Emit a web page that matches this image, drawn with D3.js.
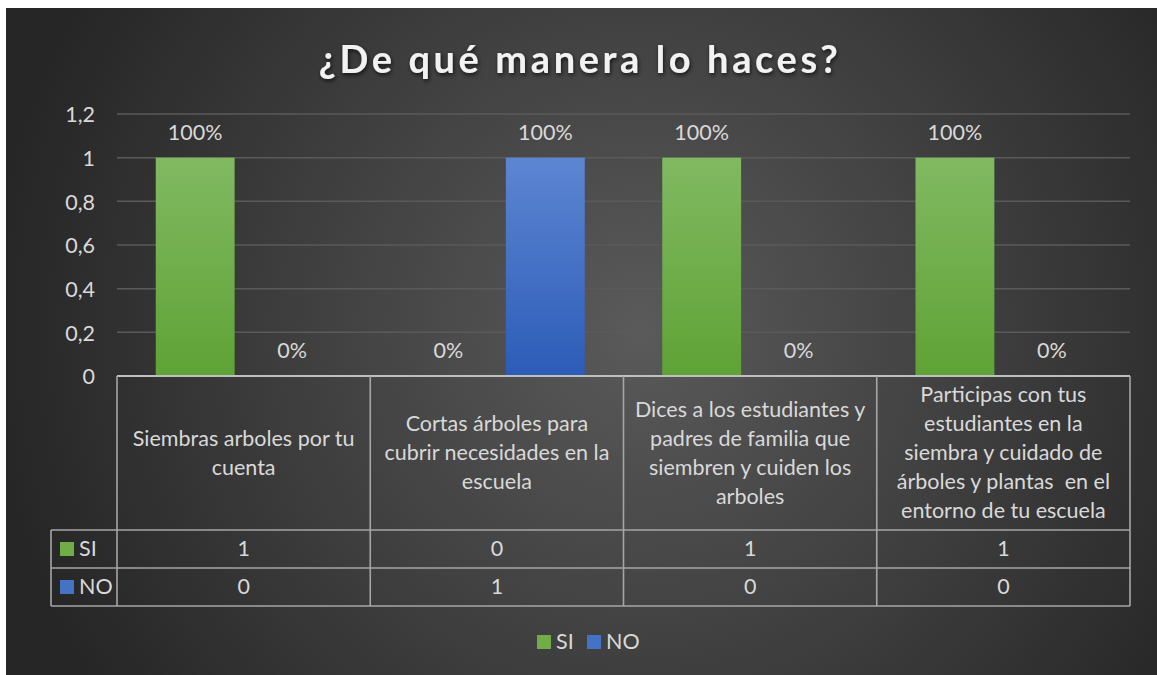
<!DOCTYPE html>
<html>
<head>
<meta charset="utf-8">
<script src="https://cdn.jsdelivr.net/npm/d3@7"></script>
<style>
  html, body { margin: 0; padding: 0; background: #ffffff; }
  svg { display: block; }
  text { font-family: Lato, "Open Sans", sans-serif; white-space: pre; }
</style>
</head>
<body>
<script>
const title = "¿De qué manera lo haces?";
const categories = [
  "Siembras arboles por tu\ncuenta",
  "Cortas árboles para\ncubrir necesidades en la\nescuela",
  "Dices a los estudiantes y\npadres de familia que\nsiembren y cuiden los\narboles",
  "Participas con tus\nestudiantes en la\nsiembra y cuidado de\nárboles y plantas  en el\nentorno de tu escuela"
];
const seriesNames = ["SI", "NO"];
const siValues = [1, 0, 1, 1];
const noValues = [0, 1, 0, 0];
const yTicks = [0, 0.2, 0.4, 0.6, 0.8, 1, 1.2];
const yTickLabels = ["0", "0,2", "0,4", "0,6", "0,8", "1", "1,2"];

const W = 1157, H = 675;
const FS = 21.5;
const svg = d3.select("body").append("svg").attr("width", W).attr("height", H);
const defs = svg.append("defs");

const bg = defs.append("radialGradient").attr("id", "bg")
  .attr("gradientUnits", "userSpaceOnUse")
  .attr("cx", 640).attr("cy", 330).attr("r", 650);
bg.append("stop").attr("offset", "0%").attr("stop-color", "#5a5a5a");
bg.append("stop").attr("offset", "100%").attr("stop-color", "#262626");

const gG = defs.append("linearGradient").attr("id", "gG").attr("x1", 0).attr("y1", 0).attr("x2", 0).attr("y2", 1);
gG.append("stop").attr("offset", "0%").attr("stop-color", "#81b961");
gG.append("stop").attr("offset", "100%").attr("stop-color", "#5fa235");
const gB = defs.append("linearGradient").attr("id", "gB").attr("x1", 0).attr("y1", 0).attr("x2", 0).attr("y2", 1);
gB.append("stop").attr("offset", "0%").attr("stop-color", "#5d86d2");
gB.append("stop").attr("offset", "100%").attr("stop-color", "#2c5cb8");

const sh = defs.append("filter").attr("id", "sh").attr("x", "-10%").attr("y", "-30%").attr("width", "120%").attr("height", "160%");
sh.append("feDropShadow").attr("dx", 1).attr("dy", 2).attr("stdDeviation", 2).attr("flood-color", "#000").attr("flood-opacity", 0.7);

svg.append("rect").attr("x", 6).attr("y", 8).attr("width", W - 6).attr("height", H - 8).attr("fill", "url(#bg)");

// title
svg.append("text").attr("x", 580).attr("y", 73).attr("text-anchor", "middle")
  .attr("font-size", 38).attr("font-weight", 700).attr("letter-spacing", 3.6)
  .attr("fill", "#f2f2f2").attr("filter", "url(#sh)").text(title);

const left = 117, right = 1130;
const y = d3.scaleLinear().domain([0, 1.2]).range([376, 114]);
const x0 = d3.scaleBand().domain(d3.range(categories.length)).range([left, right]).padding(0);
const x1 = d3.scaleBand().domain(seriesNames).range([0, x0.bandwidth()]).paddingInner(0.186).paddingOuter(0.4);

// gridlines
svg.append("g").selectAll("line").data(yTicks.filter(t => t > 0)).join("line")
  .attr("x1", left).attr("x2", right)
  .attr("y1", d => y(d)).attr("y2", d => y(d))
  .attr("stroke", "#5a5a5a").attr("stroke-width", 1.5);

// y labels
const yAxis = d3.axisLeft(y).tickValues(yTicks).tickSize(0).tickPadding(0)
  .tickFormat((d, i) => yTickLabels[i]);
const ya = svg.append("g").attr("transform", `translate(95,0)`).call(yAxis);
ya.select(".domain").remove();
ya.selectAll("text").attr("font-size", FS).attr("fill", "#d9d9d9")
  .attr("font-family", "Lato, 'Open Sans', sans-serif").attr("dy", "0.36em");

// bars
const seriesData = [siValues, noValues];
const fills = ["url(#gG)", "url(#gB)"];
seriesNames.forEach((s, si) => {
  const vals = seriesData[si];
  svg.append("g").selectAll("rect").data(vals).join("rect")
    .attr("x", (d, i) => x0(i) + x1(s))
    .attr("width", x1.bandwidth())
    .attr("y", d => y(d))
    .attr("height", d => y(0) - y(d))
    .attr("fill", fills[si]);
  svg.append("g").selectAll("text").data(vals).join("text")
    .attr("x", (d, i) => x0(i) + x1(s) + x1.bandwidth() / 2)
    .attr("y", d => y(d) - 18)
    .attr("text-anchor", "middle").attr("font-size", FS).attr("fill", "#d9d9d9")
    .text(d => d3.format(".0%")(d));
});

// data table
const tTop = 376, catBottom = 530, r1 = 568, r2 = 606, legLeft = 51;
const lineC = "#a6a6a6";
const tg = svg.append("g").attr("stroke", lineC).attr("stroke-width", 1.6).attr("fill", "none");
tg.append("line").attr("x1", left).attr("x2", right).attr("y1", tTop).attr("y2", tTop).attr("stroke", "#bfbfbf").attr("stroke-width", 2);
[catBottom, r1, r2].forEach(yy => tg.append("line").attr("x1", legLeft).attr("x2", right).attr("y1", yy).attr("y2", yy));
tg.append("line").attr("x1", legLeft).attr("x2", legLeft).attr("y1", catBottom).attr("y2", r2);
d3.range(categories.length + 1).forEach(i => {
  const xx = i < categories.length ? x0(i) : right;
  tg.append("line").attr("x1", xx).attr("x2", xx).attr("y1", tTop).attr("y2", r2);
});

// category labels
const lh = 29;
categories.forEach((c, i) => {
  const lines = c.split("\n");
  const cy = (tTop + catBottom) / 2;
  const t = svg.append("text").attr("text-anchor", "middle").attr("font-size", FS).attr("fill", "#d9d9d9");
  lines.forEach((ln, j) => {
    t.append("tspan").attr("x", x0(i) + x0.bandwidth() / 2)
      .attr("y", cy + (j - (lines.length - 1) / 2) * lh + 7).text(ln);
  });
});

// table rows
const legColors = ["#70ad47", "#4472c4"];
const rowTops = [catBottom, r1];
seriesNames.forEach((s, si) => {
  const rt = rowTops[si];
  const cy = rt + 19;
  svg.append("rect").attr("x", 60).attr("y", cy - 7).attr("width", 14).attr("height", 14).attr("fill", legColors[si]);
  svg.append("text").attr("x", 79).attr("y", cy + 7).attr("font-size", FS).attr("fill", "#d9d9d9").text(s);
  svg.append("g").selectAll("text").data(seriesData[si]).join("text")
    .attr("x", (d, i) => x0(i) + x0.bandwidth() / 2).attr("y", cy + 7)
    .attr("text-anchor", "middle").attr("font-size", FS).attr("fill", "#d9d9d9")
    .text(d => d);
});

// legend
const lg = svg.append("g");
const legX = [537, 587];
seriesNames.forEach((s, si) => {
  lg.append("rect").attr("x", legX[si]).attr("y", 635).attr("width", 14).attr("height", 14).attr("fill", legColors[si]);
  lg.append("text").attr("x", legX[si] + 19).attr("y", 649).attr("font-size", FS).attr("fill", "#d9d9d9").text(s);
});
</script>
</body>
</html>
